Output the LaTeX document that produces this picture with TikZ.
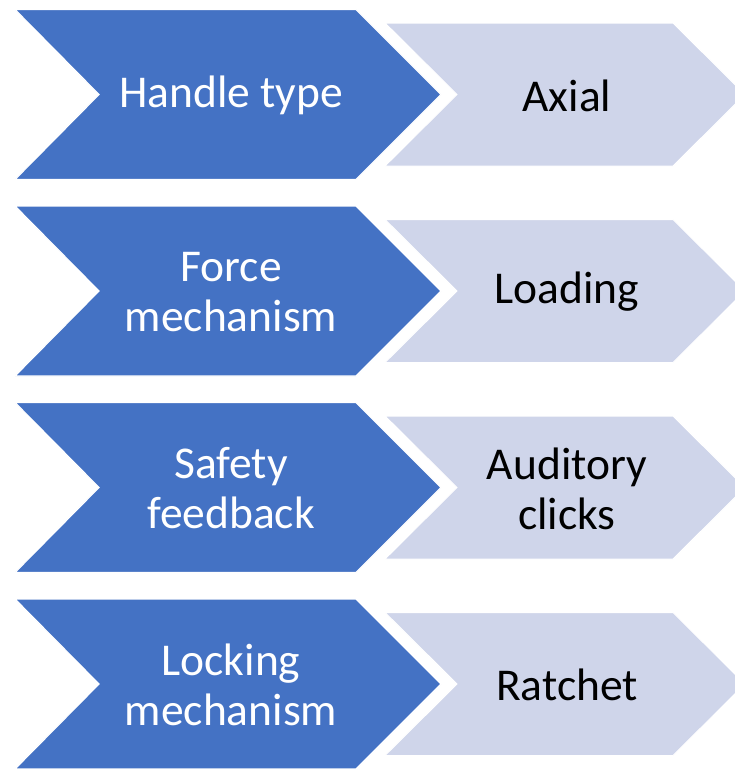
\documentclass[tikz,border=0pt]{standalone}
\usepackage{fontspec}
\setmainfont{Carlito}
\definecolor{keyblue}{HTML}{4472C4}
\definecolor{valblue}{HTML}{CFD5EA}
\tikzset{
  keyshape/.style={fill=keyblue, draw=white, line width=1.2pt, line join=miter},
  valshape/.style={fill=valblue, draw=white, line width=1pt, line join=miter},
  keytext/.style={text=white, align=center, inner sep=0pt, font=\fontsize{45.5}{50}\selectfont},
  valtext/.style={text=black, align=center, inner sep=0pt, font=\fontsize{45.5}{50}\selectfont},
}
\begin{document}
\begin{tikzpicture}[x=1pt,y=-1pt]
\useasboundingbox (0,0) rectangle (735,769);
\clip (0,0) rectangle (735,769);
\foreach \i/\k/\v in {0/{Handle type}/{Axial},
                       1/{Force\\mechanism}/{Loading},
                       2/{Safety\\feedback}/{Auditory\\clicks},
                       3/{Locking\\mechanism}/{Ratchet}}
{
  \pgfmathsetmacro\t{9.5+196.5*\i}
  \pgfmathsetmacro\m{\t+85}
  \pgfmathsetmacro\b{\t+170}
  \pgfmathsetmacro\vt{\t+13.5}
  \pgfmathsetmacro\vb{\t+156.5}
  % value chevron (drawn first, partly behind)
  \path[valshape] (385,\vt) -- (673,\vt) -- (745,\m) -- (673,\vb) -- (385,\vb) -- (457,\m) -- cycle;
  % key chevron
  \path[keyshape] (15,\t) -- (356,\t) -- (441,\m) -- (356,\b) -- (15,\b) -- (99,\m) -- cycle;
  \node[keytext] (key\i) at (231,\m+1) {\k};
  \node[valtext] (val\i) at (567,\m+1) {\v};
}
\end{tikzpicture}
\end{document}
